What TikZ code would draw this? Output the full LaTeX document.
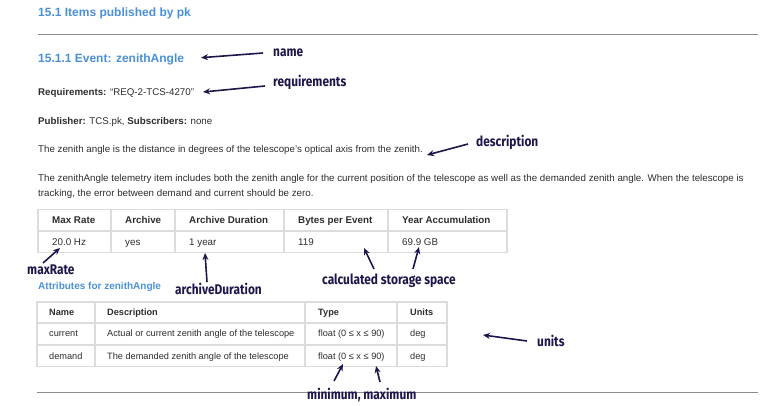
\documentclass[tikz,border=0pt]{standalone}
\usepackage{fontspec}
\setmainfont{Liberation Sans}
\newfontfamily\handfont[FakeStretch=0.85]{Fira Sans}
\usepackage{xcolor}
\usetikzlibrary{arrows.meta, positioning}

\definecolor{headblue}{RGB}{74,144,217}
\definecolor{bodygray}{RGB}{45,45,45}
\definecolor{ink}{RGB}{30,22,75}
\definecolor{rulegray}{RGB}{140,140,140}
\definecolor{cellgray}{RGB}{220,220,220}

\tikzset{
	body/.style={anchor=base west, inner sep=0pt, text=bodygray,
		font=\fontsize{9.75}{11}\selectfont},
	tbl/.style={body, font=\fontsize{9.8}{11}\selectfont},
	tblhead/.style={body, font=\fontsize{9.8}{11}\selectfont\bfseries},
	attr/.style={body, font=\fontsize{9.2}{11}\selectfont},
	attrhead/.style={body, font=\fontsize{9.2}{11}\selectfont\bfseries},
	head/.style={anchor=base west, inner sep=0pt, text=headblue,
		font=\fontsize{12}{14}\selectfont\bfseries},
	hand/.style={anchor=base west, inner sep=0pt, text=ink,
		font=\handfont\fontsize{14}{16}\selectfont\bfseries},
	pointer/.style={-{Stealth[length=7pt,width=6pt]}, draw=ink, line width=1.6pt},
	cellline/.style={draw=cellgray, line width=1.6pt}
}

\begin{document}
\begin{tikzpicture}[x=1pt, y=-1pt]
	\useasboundingbox (0,0) rectangle (781,406);
	% Headings
	\node[head] (secTitle) at (38,16.5) {15.1 Items published by pk};
	\draw[
		draw=rulegray,
		line width=1pt
	] (38,35) -- (758,35);
	\node[head] (evTitle) at (38,63) {15.1.1 Event: zenithAngle};
	% Text
	\node[body] (reqText) at (38,95.5) {\textbf{Requirements:} “REQ-2-TCS-4270”};
	\node[body] (pubText) at (38,125) {\textbf{Publisher:} TCS.pk, \textbf{Subscribers:} none};
	\node[body] (descText) at (38,152.7) {The zenith angle is the distance in degrees of the telescope's optical axis from the zenith.};
	\node[body] (paraA) at (38,181.5) {The zenithAngle telemetry item includes both the zenith angle for the current position of the telescope as well as the demanded zenith angle. When the telescope is};
	\node[body] (paraB) at (38,196.5) {tracking, the error between demand and current should be zero.};
	% Table (event)
	\draw[cellline] (38,209.5) rectangle (507,252.5);
	\draw[cellline] (38,231) -- (507,231);
	\draw[cellline] (111,209.5) -- (111,252.5);
	\draw[cellline] (175,209.5) -- (175,252.5);
	\draw[cellline] (284,209.5) -- (284,252.5);
	\draw[cellline] (388,209.5) -- (388,252.5);
	\node[tblhead] (hRate) at (52,223.3) {Max Rate};
	\node[tblhead] (hArch) at (125,223.3) {Archive};
	\node[tblhead] (hDur) at (189,223.3) {Archive Duration};
	\node[tblhead] (hBytes) at (298,223.3) {Bytes per Event};
	\node[tblhead] (hYear) at (402,223.3) {Year Accumulation};
	\node[tbl] (vRate) at (52,245) {20.0 Hz};
	\node[tbl] (vArch) at (125,245) {yes};
	\node[tbl] (vDur) at (189,245) {1 year};
	\node[tbl] (vBytes) at (298,245) {119};
	\node[tbl] (vYear) at (402,245) {69.9 GB};
	% Table (attributes)
	\node[head, font=\fontsize{10}{12}\selectfont\bfseries] (attrTitle) at (38,289) {Attributes for zenithAngle};
	\draw[cellline] (37,302) rectangle (447,366.5);
	\draw[cellline] (37,323) -- (447,323);
	\draw[cellline] (37,345) -- (447,345);
	\draw[cellline] (95,302) -- (95,366.5);
	\draw[cellline] (305,302) -- (305,366.5);
	\draw[cellline] (397,302) -- (397,366.5);
	\node[attrhead] (hName) at (49,315) {Name};
	\node[attrhead] (hDesc) at (107,315) {Description};
	\node[attrhead] (hType) at (318,315) {Type};
	\node[attrhead] (hUnits) at (410,315) {Units};
	\node[attr] (curName) at (49,336.5) {current};
	\node[attr] (curDesc) at (107,336.5) {Actual or current zenith angle of the telescope};
	\node[attr] (curType) at (318,336.5) {float (0 ≤ x ≤ 90)};
	\node[attr] (curUnits) at (410,336.5) {deg};
	\node[attr] (demName) at (49,359) {demand};
	\node[attr] (demDesc) at (107,359) {The demanded zenith angle of the telescope};
	\node[attr] (demType) at (318,359) {float (0 ≤ x ≤ 90)};
	\node[attr] (demUnits) at (410,359) {deg};
	\draw[
		draw=rulegray,
		line width=1pt
	] (37,392) -- (758,392);
	% Annotations
	\node[hand] (lblName) at (273,56.5) {name};
	\node[hand] (lblReq) at (273,87) {requirements};
	\node[hand] (lblDesc) at (476,146.7) {description};
	\node[hand] (lblRate) at (27,274) {maxRate};
	\node[hand] (lblDur) at (175,294) {archiveDuration};
	\node[hand] (lblStore) at (322,284) {calculated storage space};
	\node[hand] (lblUnits) at (537,346.5) {units};
	\node[hand] (lblMinMax) at (307,399) {minimum, maximum};
	% Arrow tips
	\coordinate (tipName) at (201,57.7);
	\coordinate (tipReq) at (203,92);
	\coordinate (tipDesc) at (427,155);
	\coordinate (tipRate) at (60,248);
	\coordinate (tipDur) at (205,253);
	\coordinate (tipBytes) at (364,248);
	\coordinate (tipYear) at (419,247);
	\coordinate (tipUnits) at (483,335);
	\coordinate (tipMin) at (343,364);
	\coordinate (tipMax) at (376,366);
	% Arrows
	\draw[pointer] ([shift={(-10,-3.5)}]lblName.base west) -- (tipName);
	\draw[pointer] ([shift={(-8,-1)}]lblReq.base west) -- (tipReq);
	\draw[pointer] ([shift={(-8,-2.7)}]lblDesc.base west) -- (tipDesc);
	\draw[pointer] ([shift={(16,-11)}]lblRate.base west) -- (tipRate);
	\draw[pointer] ([shift={(32,-12)}]lblDur.base west) -- (tipDur);
	\draw[pointer] ([shift={(52,-15)}]lblStore.base west) -- (tipBytes);
	\draw[pointer] ([shift={(91,-15)}]lblStore.base west) -- (tipYear);
	\draw[pointer] ([shift={(-10,-5.5)}]lblUnits.base west) -- (tipUnits);
	\draw[pointer] ([shift={(27,-18)}]lblMinMax.base west) -- (tipMin);
	\draw[pointer] ([shift={(73,-17)}]lblMinMax.base west) -- (tipMax);
\end{tikzpicture}
\end{document}
